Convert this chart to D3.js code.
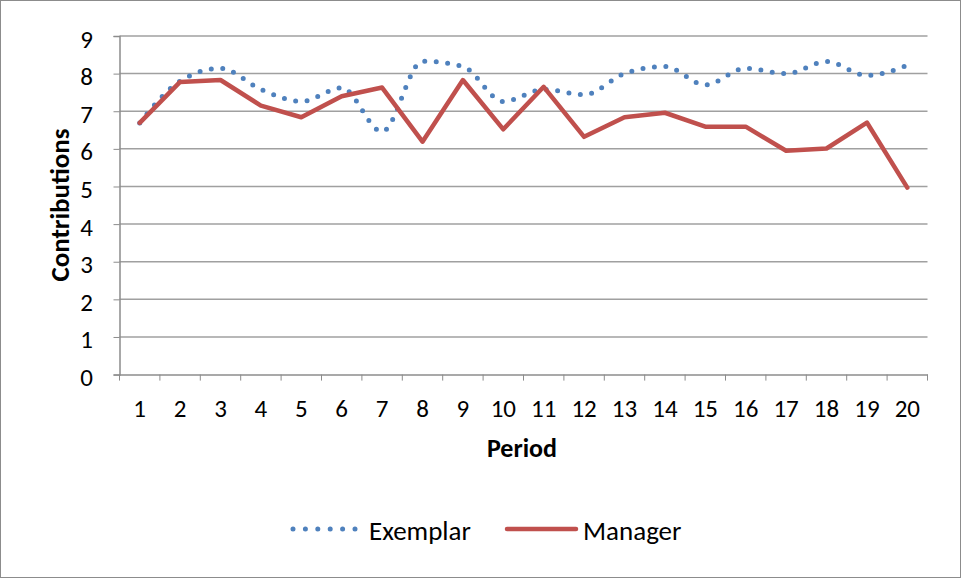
<!DOCTYPE html>
<html>
<head>
<meta charset="utf-8">
<script src="https://cdn.jsdelivr.net/npm/d3@7"></script>
<style>
  body { margin: 0; background: #fff; }
  text { font-family: Carlito, Calibri, Lato, sans-serif; fill: #000; }
</style>
</head>
<body>
<div id="chart"></div>
<script>
// data
const periods = ["1","2","3","4","5","6","7","8","9","10","11","12","13","14","15","16","17","18","19","20"];
const exemplar = [6.69,7.8,8.14,7.58,7.26,7.62,6.46,8.33,8.19,7.26,7.58,7.44,8.0,8.19,7.7,8.14,8.0,8.32,7.95,8.22];
const manager = [6.69,7.78,7.83,7.15,6.84,7.4,7.63,6.19,7.83,6.52,7.65,6.32,6.84,6.96,6.59,6.59,5.95,6.01,6.7,4.97];
const yTicks = [0,1,2,3,4,5,6,7,8,9];

const w = 961, h = 578;
const plotLeft = 119.5, plotRight = 927.5, plotTop = 36, plotBottom = 374.6;

const svg = d3.select("#chart").append("svg")
    .attr("width", w)
    .attr("height", h);

// outer border
svg.append("rect")
    .attr("x", 0.5).attr("y", 0.5)
    .attr("width", w - 1).attr("height", h - 1)
    .attr("fill", "#fff")
    .attr("stroke", "#8c8c8c");

const x = d3.scaleBand().domain(periods).range([plotLeft, plotRight]);
const y = d3.scaleLinear().domain([0, 9]).range([plotBottom, plotTop]);

// gridlines
svg.append("g")
    .selectAll("line")
    .data(yTicks.filter(d => d > 0))
    .enter()
    .append("line")
    .attr("x1", plotLeft).attr("x2", plotRight)
    .attr("y1", d => y(d)).attr("y2", d => y(d))
    .attr("stroke", "#a0a0a0")
    .attr("stroke-width", 1.5);

// y axis
const yAxis = svg.append("g")
    .attr("transform", "translate(" + plotLeft + ",0)")
    .call(d3.axisLeft(y).tickValues(yTicks).tickSize(6));
yAxis.selectAll("text")
    .style("font-size", "25px")
    .attr("x", -26.5)
    .attr("dy", null)
    .attr("y", 11);

// x axis, ticks at band boundaries
const xAxis = svg.append("g")
    .attr("transform", "translate(0," + plotBottom + ")")
    .call(d3.axisBottom(x).tickSize(0));
xAxis.selectAll("text")
    .style("font-size", "25px")
    .attr("dy", null)
    .attr("y", 42);
xAxis.selectAll(".tick").append("line")
    .attr("x1", -x.bandwidth() / 2).attr("x2", -x.bandwidth() / 2)
    .attr("y1", 0).attr("y2", 6)
    .attr("stroke", "#8c8c8c");
xAxis.append("line")
    .attr("x1", plotRight).attr("x2", plotRight)
    .attr("y1", 0).attr("y2", 6)
    .attr("stroke", "#8c8c8c");

svg.selectAll(".domain").attr("stroke", "#8c8c8c").attr("stroke-width", 1.5);
svg.selectAll(".tick line").attr("stroke", "#8c8c8c");

// axis titles
svg.append("text")
    .attr("x", 522).attr("y", 457)
    .attr("text-anchor", "middle")
    .style("font-size", "26px")
    .style("font-weight", "bold")
    .text("Period");
svg.append("text")
    .attr("transform", "translate(69,205) rotate(-90)")
    .attr("text-anchor", "middle")
    .style("font-size", "27px")
    .style("font-weight", "bold")
    .text("Contributions");

const cx = i => x(periods[i]) + x.bandwidth() / 2;

// Exemplar: smoothed dotted line
const smooth = d3.line()
    .x((d, i) => cx(i))
    .y(d => y(d))
    .curve(d3.curveMonotoneX);
svg.append("path")
    .datum(exemplar)
    .attr("d", smooth)
    .attr("fill", "none")
    .attr("stroke", "#4F81BD")
    .attr("stroke-width", 5)
    .attr("stroke-linecap", "round")
    .attr("stroke-dasharray", "0 11.5");

// Manager: straight solid line
const straight = d3.line()
    .x((d, i) => cx(i))
    .y(d => y(d));
svg.append("path")
    .datum(manager)
    .attr("d", straight)
    .attr("fill", "none")
    .attr("stroke", "#C0504D")
    .attr("stroke-width", 4.5)
    .attr("stroke-linejoin", "round")
    .attr("stroke-linecap", "round");

// legend
const legend = svg.append("g").attr("id", "legend");
legend.append("line")
    .attr("x1", 293).attr("x2", 355)
    .attr("y1", 529).attr("y2", 529)
    .attr("stroke", "#4F81BD")
    .attr("stroke-width", 5)
    .attr("stroke-linecap", "round")
    .attr("stroke-dasharray", "0 12.4");
legend.append("text")
    .attr("x", 369).attr("y", 540)
    .style("font-size", "27px")
    .text("Exemplar");
legend.append("line")
    .attr("x1", 507).attr("x2", 576)
    .attr("y1", 529).attr("y2", 529)
    .attr("stroke", "#C0504D")
    .attr("stroke-width", 4.5)
    .attr("stroke-linecap", "round");
legend.append("text")
    .attr("x", 583).attr("y", 540)
    .style("font-size", "27px")
    .text("Manager");
</script>
</body>
</html>
